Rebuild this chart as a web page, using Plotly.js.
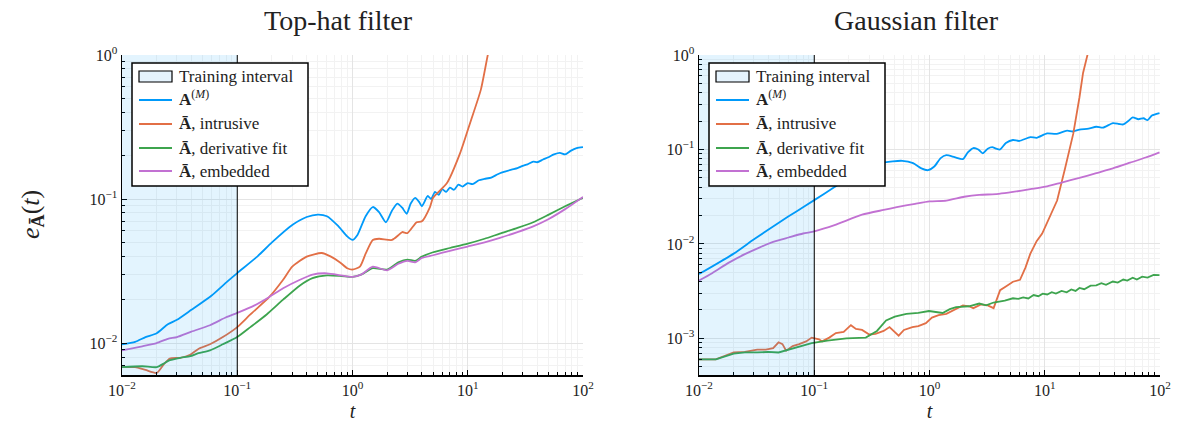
<!DOCTYPE html>
<html><head><meta charset="utf-8">
<script src="https://cdn.plot.ly/plotly-3.0.1.min.js"></script>
<style>html,body{margin:0;padding:0;background:#fff}#plot{width:1181px;height:427px}</style>
</head><body><div id="plot"></div>
<script>
// Training interval
const trainingInterval = [0.01, 0.1];
const tickVals = [0.01, 0.1, 1, 10, 100];
const tickTextX = ['10<sup>−2</sup>','10<sup>−1</sup>','10<sup>0</sup>','10<sup>1</sup>','10<sup>2</sup>'];
const tickValsYL = [0.01, 0.1, 1];
const tickTextYL = ['10<sup>−2</sup>','10<sup>−1</sup>','10<sup>0</sup>'];
const tickValsYR = [0.001, 0.01, 0.1, 1];
const tickTextYR = ['10<sup>−3</sup>','10<sup>−2</sup>','10<sup>−1</sup>','10<sup>0</sup>'];

// ---- Top-hat filter (left) ----
const thBlueT = [0.01,0.013,0.016,0.02,0.025,0.03,0.04,0.06,0.08,0.1,0.15,0.2,0.3,0.4,0.5,0.6,0.75,0.9,1.0,1.1,1.3,1.5,1.7,1.95,2.2,2.45,2.7,2.95,3.2,3.5,3.8,4.0,4.5,4.8,5.2,5.6,6.0,6.5,7,7.6,8.3,9,10,11,12.5,14,16,18,19,21,24,27,30,33,37,40,45,50,56,63,70,78,88,100];
const thBlueE = [0.0098,0.0102,0.011,0.0117,0.0135,0.0145,0.017,0.0214,0.0263,0.0306,0.040,0.050,0.066,0.075,0.078,0.076,0.065,0.055,0.052,0.056,0.076,0.088,0.081,0.069,0.083,0.093,0.087,0.079,0.093,0.102,0.095,0.089,0.105,0.100,0.112,0.107,0.117,0.112,0.120,0.116,0.126,0.122,0.129,0.127,0.135,0.138,0.141,0.148,0.151,0.155,0.160,0.164,0.170,0.174,0.182,0.180,0.188,0.195,0.204,0.209,0.204,0.216,0.226,0.229];

const thOrangeT = [0.01,0.013,0.016,0.02,0.023,0.026,0.032,0.039,0.046,0.058,0.075,0.1,0.13,0.19,0.25,0.3,0.4,0.54,0.65,0.78,0.9,1.0,1.16,1.3,1.5,1.7,2.2,2.5,2.7,3.0,3.6,4.0,4.7,5.0,6.6,8.6,10.5,13,15,16];
const thOrangeE = [0.0068,0.0068,0.0065,0.0062,0.0071,0.0078,0.0079,0.0083,0.0091,0.0098,0.011,0.0129,0.0158,0.0209,0.0275,0.0339,0.0398,0.0422,0.0398,0.0363,0.0331,0.0324,0.0339,0.0417,0.0519,0.053,0.052,0.056,0.059,0.058,0.069,0.070,0.088,0.102,0.129,0.209,0.339,0.575,1.02,1.26];

const thGreenT = [0.01,0.015,0.02,0.023,0.026,0.032,0.039,0.046,0.058,0.075,0.1,0.13,0.18,0.25,0.35,0.45,0.6,0.8,1.0,1.2,1.5,2.0,2.5,3.0,3.5,4.0,5.0,7,10,14,19,27,37,50,70,100];
const thGreenE = [0.0068,0.0069,0.0068,0.0072,0.0076,0.0079,0.0081,0.0085,0.0089,0.0098,0.011,0.0129,0.0158,0.020,0.0251,0.0282,0.0295,0.0292,0.0288,0.030,0.0331,0.0324,0.0363,0.038,0.0372,0.0398,0.0427,0.0457,0.049,0.053,0.0575,0.063,0.069,0.0776,0.089,0.102];

const thPurpleT = [0.01,0.015,0.02,0.025,0.03,0.04,0.058,0.08,0.1,0.14,0.19,0.25,0.35,0.45,0.6,0.8,1.0,1.2,1.5,2.0,2.5,3.0,3.5,4.0,5.0,7,10,14,19,27,37,50,70,100];
const thPurpleE = [0.0089,0.0095,0.010,0.0107,0.011,0.012,0.0133,0.0151,0.0162,0.0182,0.0209,0.024,0.0275,0.0299,0.0305,0.0295,0.0288,0.030,0.0339,0.032,0.0355,0.0372,0.0363,0.039,0.0407,0.0437,0.0468,0.050,0.0537,0.0589,0.0646,0.0724,0.0851,0.1035];

// ---- Gaussian filter (right) ----
const gBlueT = [0.01,0.02,0.03,0.05,0.07,0.1,0.15,0.2,0.28,0.37,0.48,0.58,0.72,0.85,0.97,1.1,1.25,1.4,1.65,1.95,2.15,2.4,2.65,2.9,3.2,3.5,3.8,4.1,4.6,5.3,6,7.5,8.5,10.5,12.5,15.6,17.5,20,24,28,32,39,44,48,53,58,65,72,78,85,99];
const gBlueE = [0.0048,0.0079,0.0112,0.017,0.0221,0.0291,0.040,0.050,0.063,0.0718,0.075,0.0759,0.0716,0.063,0.0603,0.066,0.081,0.087,0.083,0.079,0.093,0.1035,0.100,0.091,0.102,0.106,0.102,0.100,0.117,0.126,0.123,0.135,0.133,0.148,0.146,0.158,0.155,0.162,0.166,0.174,0.170,0.19,0.186,0.184,0.20,0.219,0.209,0.214,0.204,0.229,0.243];

const gOrangeT = [0.01,0.014,0.017,0.02,0.025,0.032,0.038,0.044,0.049,0.053,0.057,0.065,0.074,0.085,0.095,0.11,0.117,0.135,0.154,0.18,0.208,0.23,0.26,0.3,0.34,0.4,0.45,0.5,0.54,0.6,0.71,0.8,0.93,1.05,1.2,1.4,1.7,1.95,2.2,2.4,2.8,3.2,3.6,3.8,4.1,4.6,5.3,6.1,6.8,7.5,8.5,9.5,11,12.8,15,17.7,20,21.5,23.7,25];
const gOrangeE = [0.0006,0.0006,0.00066,0.00071,0.00072,0.00076,0.00076,0.00079,0.00091,0.00087,0.00074,0.00083,0.00087,0.00093,0.00102,0.00098,0.00093,0.00102,0.00114,0.00117,0.00138,0.00126,0.00123,0.0011,0.00112,0.0012,0.00132,0.00117,0.00107,0.00123,0.00132,0.00135,0.00145,0.00166,0.00176,0.00182,0.00204,0.00224,0.00219,0.00209,0.00229,0.00224,0.00209,0.00251,0.00324,0.00355,0.00398,0.00417,0.00562,0.0079,0.0107,0.0129,0.019,0.0288,0.063,0.148,0.355,0.646,1.05,1.41];

const gGreenT = [0.01,0.014,0.02,0.025,0.032,0.04,0.049,0.06,0.075,0.095,0.13,0.19,0.28,0.35,0.42,0.5,0.63,0.8,0.99,1.15,1.3,1.5,1.7,2.2,2.7,3.1,3.6,4.5,5.3,5.9,6.5,7.2,8,8.8,9.6,10.5,11.5,12.5,14,15.5,17,18.5,20,22,25,28,31,34,39,43,48,52,58,63,70,78,88,99];
const gGreenE = [0.0006,0.0006,0.00069,0.00071,0.00071,0.00072,0.00071,0.00076,0.00083,0.00089,0.00095,0.001,0.00102,0.0012,0.00155,0.0017,0.00182,0.00186,0.00195,0.0019,0.00186,0.00204,0.00214,0.00219,0.00234,0.00224,0.0024,0.00251,0.00266,0.00262,0.00272,0.00265,0.00288,0.0028,0.00298,0.00292,0.00308,0.00298,0.00318,0.00308,0.0033,0.00318,0.00342,0.00332,0.00362,0.00365,0.00385,0.0037,0.004,0.0039,0.0042,0.0041,0.0044,0.0042,0.0045,0.0044,0.0047,0.00468];

const gPurpleT = [0.01,0.013,0.018,0.025,0.033,0.044,0.06,0.08,0.1,0.15,0.26,0.4,0.52,0.75,1.0,1.4,2.0,2.7,3.5,4,5.3,7.5,10.5,14,20,28,39,55,75,99];
const gPurpleE = [0.0041,0.0049,0.0063,0.0078,0.0091,0.0105,0.0117,0.0129,0.0136,0.0158,0.0204,0.0229,0.0245,0.0266,0.0282,0.0288,0.0316,0.0331,0.0335,0.0339,0.0355,0.038,0.0407,0.0447,0.050,0.0562,0.063,0.0724,0.0822,0.0933];

const legendLabels = ['Training interval', '<b>A</b><sup>(<i>M</i>)</sup>', '<b>Ā</b>, intrusive', '<b>Ā</b>, derivative fit', '<b>Ā</b>, embedded'];
const colors = ['#009AFA', '#E26F46', '#3DA44E', '#C271D2'];

const yRangeL = [Math.log10(0.006), 0];
const yRangeR = [Math.log10(0.00041), 0];
const W = 1181, T = 55, B = 375, H = B - T;
const px = v => v / W;
const py = v => (B - v) / H;

// minor tick positions (2..9 within each decade)
function minorTicks(lo, hi) {
  const out = [];
  for (let d = lo; d < hi; d++) for (let m = 2; m <= 9; m++) out.push(m * Math.pow(10, d));
  return out;
}

function line(t, e, i, xa, ya, smooth) {
  return {x:t, y:e, xaxis:xa, yaxis:ya, mode:'lines',
    line:{color:colors[i], width:1.8, shape: smooth ? 'spline' : 'linear', smoothing: smooth ? 0.6 : 1},
    name:legendLabels[i+1], showlegend:false};
}

const data = [
  line(thBlueT, thBlueE, 0, 'x','y', true),
  line(thOrangeT, thOrangeE, 1, 'x','y', true),
  line(thGreenT, thGreenE, 2, 'x','y', true),
  line(thPurpleT, thPurpleE, 3, 'x','y', true),
  line(gBlueT, gBlueE, 0, 'x2','y2', true),
  line(gOrangeT, gOrangeE, 1, 'x2','y2', false),
  line(gGreenT, gGreenE, 2, 'x2','y2', false),
  line(gPurpleT, gPurpleE, 3, 'x2','y2', true)
];

const F = 'Liberation Serif, DejaVu Serif, serif';
function xax(dom, anchor) {
  return {type:'log', range:[-2,2], domain:dom, anchor:anchor, showline:true, linecolor:'#000', linewidth:1.5,
    mirror:false, ticks:'inside', ticklen:5, tickcolor:'#000', tickmode:'array', tickvals:tickVals, ticktext:tickTextX,
    showgrid:true, gridcolor:'#e4e4e4', gridwidth:1, zeroline:false,
    minor:{tickmode:'array', tickvals:minorTicks(-2, 2), showgrid:true, gridcolor:'#f2f2f2', ticks:'inside', ticklen:3, tickcolor:'#000'},
    tickfont:{family:F, size:16, color:'#222'},
    title:{text:'<i>t</i>', font:{family:F, size:20, color:'#222'}, standoff:6}};
}
function yax(dom, anchor, r, tv, tt, lo) {
  return {type:'log', range:r, domain:dom, anchor:anchor, showline:true, linecolor:'#000', linewidth:1.5,
    ticks:'inside', ticklen:5, tickcolor:'#000', tickmode:'array', tickvals:tv, ticktext:tt,
    showgrid:true, gridcolor:'#e4e4e4', gridwidth:1, zeroline:false,
    minor:{tickmode:'array', tickvals:minorTicks(lo, 0), showgrid:true, gridcolor:'#f2f2f2', ticks:'inside', ticklen:3, tickcolor:'#000'},
    tickfont:{family:F, size:16, color:'#222'}};
}

const shapes = [];
const annotations = [];
function shadeShapes(xref, yref) {
  shapes.push({type:'rect', xref:xref, yref:yref + ' domain', x0:trainingInterval[0], x1:trainingInterval[1], y0:0, y1:1,
    fillcolor:'rgba(0,154,250,0.11)', line:{width:0}, layer:'above'});
  shapes.push({type:'line', xref:xref, yref:yref + ' domain', x0:trainingInterval[1], x1:trainingInterval[1], y0:0, y1:1,
    line:{color:'#000', width:1}, layer:'above'});
}
function legendBox(x0) {
  shapes.push({type:'rect', xref:'paper', yref:'paper', x0:px(x0), x1:px(x0+176), y0:py(63), y1:py(186),
    fillcolor:'#fff', line:{color:'#000', width:1.5}, layer:'above'});
  shapes.push({type:'rect', xref:'paper', yref:'paper', x0:px(x0+7), x1:px(x0+40), y0:py(71), y1:py(82),
    fillcolor:'#e5f3fd', line:{color:'#000', width:1.2}, layer:'above'});
  const rows = [76, 100, 124, 148, 171];
  for (let i = 0; i < 4; i++) {
    shapes.push({type:'line', xref:'paper', yref:'paper', x0:px(x0+7), x1:px(x0+40), y0:py(rows[i+1]), y1:py(rows[i+1]),
      line:{color:colors[i], width:1.8}, layer:'above'});
  }
  for (let i = 0; i < 5; i++) {
    annotations.push({text:legendLabels[i], xref:'paper', yref:'paper', x:px(x0+45), y:py(rows[i] + (i==1 ? -2 : 0)),
      xanchor:'left', yanchor:'middle', showarrow:false, font:{family:F, size:17, color:'#222'}});
  }
}
shadeShapes('x', 'y');
shadeShapes('x2', 'y2');
legendBox(132);
legendBox(709);

annotations.push(
  {text:'Top-hat filter', x:px(338), y:py(20), xref:'paper', yref:'paper', showarrow:false,
   font:{family:F, size:28, color:'#222'}, xanchor:'center', yanchor:'middle'},
  {text:'Gaussian filter', x:px(916), y:py(20), xref:'paper', yref:'paper', showarrow:false,
   font:{family:F, size:28, color:'#222'}, xanchor:'center', yanchor:'middle'},
  {text:'<i>e</i><sub><b>Ā</b></sub>(<i>t</i>)', x:px(32), y:py(215), xref:'paper', yref:'paper', showarrow:false,
   textangle:-90, font:{family:F, size:26, color:'#222'}, xanchor:'center', yanchor:'middle'}
);

const layout = {
  width:W, height:427, margin:{l:0, r:0, t:T, b:427-B}, paper_bgcolor:'#fff', plot_bgcolor:'#fff',
  showlegend:false,
  xaxis: xax([px(122), px(583)], 'y'),
  yaxis: yax([0,1], 'x', yRangeL, tickValsYL, tickTextYL, -3),
  xaxis2: xax([px(699), px(1160)], 'y2'),
  yaxis2: yax([0,1], 'x2', yRangeR, tickValsYR, tickTextYR, -4),
  shapes: shapes,
  annotations: annotations
};
Plotly.newPlot('plot', data, layout, {displayModeBar:false, staticPlot:true});
</script>
</body></html>
